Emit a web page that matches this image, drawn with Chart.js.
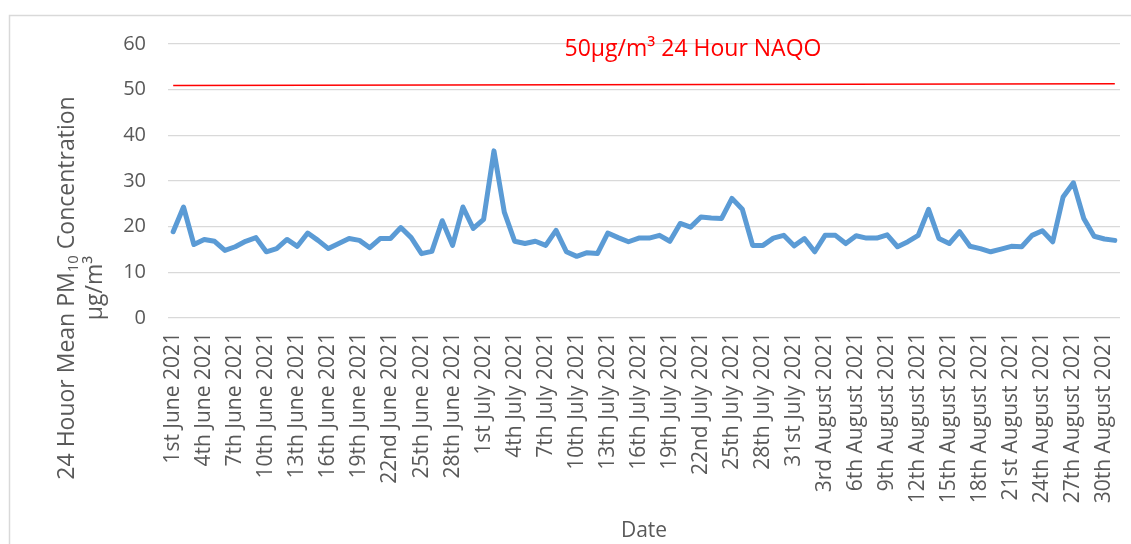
<!DOCTYPE html>
<html>
<head>
<meta charset="utf-8">
<script src="https://cdn.jsdelivr.net/npm/chart.js@4.4.0/dist/chart.umd.min.js"></script>
<style>
  html, body { margin: 0; padding: 0; background: #fff; }
  #wrap { position: relative; width: 1131px; height: 544px; }
</style>
</head>
<body>
<div id="wrap"><canvas id="pmChart"></canvas></div>
<script>
// categories: one per day, 1 June - 31 August 2021
const months = ['June', 'July', 'August'];
const monthDays = [30, 31, 31];

function ordinal(d) {
  if (d === 1 || d === 21 || d === 31) return d + 'st';
  if (d === 2 || d === 22) return d + 'nd';
  if (d === 3 || d === 23) return d + 'rd';
  return d + 'th';
}

const dates = [];
months.forEach((m, k) => {
  for (let d = 1; d <= monthDays[k]; d++) dates.push(ordinal(d) + ' ' + m + ' 2021');
});

// 24 hour mean PM10, µg/m³
const juneValues = [18.9, 24.3, 16.1, 17.2, 16.8, 14.8, 15.6, 16.8, 17.6, 14.5,
                    15.2, 17.2, 15.7, 18.6, 17.0, 15.2, 16.3, 17.4, 17.0, 15.4,
                    17.4, 17.4, 19.8, 17.6, 14.1, 14.6, 21.3, 15.9, 24.3, 19.6];
const julyValues = [21.6, 36.6, 23.2, 16.8, 16.3, 16.8, 15.9, 19.2, 14.5, 13.5,
                    14.3, 14.1, 18.6, 17.6, 16.7, 17.5, 17.5, 18.1, 16.8, 20.7,
                    19.9, 22.1, 21.9, 21.8, 26.2, 23.8, 15.9, 15.9, 17.5, 18.1, 15.8];
const augustValues = [17.4, 14.5, 18.1, 18.1, 16.3, 18.0, 17.5, 17.5, 18.2, 15.6,
                      16.7, 18.1, 23.8, 17.4, 16.3, 18.9, 15.7, 15.2, 14.5, 15.1,
                      15.7, 15.6, 18.1, 19.1, 16.7, 26.5, 29.6, 21.8, 17.9, 17.3, 17.0];
const pm10 = juneValues.concat(julyValues, augustValues);

// NAQO reference line, as drawn (start / end)
const naqoLine = [50.9, 51.3];
const naqoLabel = '50µg/m³ 24 Hour NAQO';

const yTicks = [0, 10, 20, 30, 40, 50, 60];
const labelEvery = 3;

const grey = '#595959';
Chart.defaults.font.family = "'Open Sans', sans-serif";
Chart.defaults.color = grey;

// frame, NAQO caption and the two-line y title
const extras = {
  id: 'extras',
  beforeDraw(chart) {
    const ctx = chart.ctx;
    ctx.save();
    ctx.strokeStyle = '#d9d9d9';
    ctx.lineWidth = 1.5;
    ctx.strokeRect(9.5, 15.5, 1400, 800);
    ctx.restore();
  },
  afterDraw(chart) {
    const ctx = chart.ctx;
    ctx.save();
    ctx.fillStyle = '#ff0000';
    ctx.font = "23px 'Open Sans'";
    ctx.textAlign = 'center';
    ctx.textBaseline = 'alphabetic';
    ctx.fillText(naqoLabel, 693, 56);

    // y title, rotated
    ctx.fillStyle = grey;
    ctx.translate(0, 288);
    ctx.rotate(-Math.PI / 2);
    ctx.textAlign = 'left';
    const big = "23px 'Open Sans'", small = "15px 'Open Sans'";
    const a = '24 Houor Mean PM', sub = '10', c = ' Concentration';
    ctx.font = big;
    const wa = ctx.measureText(a).width, wc = ctx.measureText(c).width;
    ctx.font = small;
    const ws = ctx.measureText(sub).width;
    let x = -(wa + ws + wc) / 2;
    ctx.font = big;
    ctx.fillText(a, x, 74);
    x += wa;
    ctx.font = small;
    ctx.fillText(sub, x, 78);
    x += ws;
    ctx.font = big;
    ctx.fillText(c, x, 74);
    ctx.textAlign = 'center';
    ctx.fillText('µg/m³', 0, 102);
    ctx.restore();
  }
};

new Chart(document.getElementById('pmChart'), {
  type: 'line',
  data: {
    labels: dates,
    datasets: [
      {
        label: 'PM10',
        data: pm10,
        borderColor: '#5b9bd5',
        borderWidth: 5,
        borderJoinStyle: 'round',
        borderCapStyle: 'round',
        pointRadius: 0,
        tension: 0,
        fill: false
      },
      {
        label: 'NAQO',
        data: [{x: dates[0], y: naqoLine[0]}, {x: dates[dates.length - 1], y: naqoLine[1]}],
        borderColor: '#ff0000',
        borderWidth: 1.5,
        pointRadius: 0,
        fill: false
      }
    ]
  },
  options: {
    responsive: true,
    maintainAspectRatio: false,
    animation: false,
    layout: { padding: { left: 0, right: 11, top: 44, bottom: 0 } },
    plugins: {
      legend: { display: false },
      tooltip: { enabled: false }
    },
    scales: {
      x: {
        offset: true,
        grid: { display: false, drawTicks: false },
        border: { display: false },
        ticks: {
          autoSkip: false,
          minRotation: 90,
          maxRotation: 90,
          padding: 14,
          color: grey,
          font: { size: 21 },
          callback: function (v, i) { return i % labelEvery === 0 ? this.getLabelForValue(v) : ''; }
        },
        title: { display: true, text: 'Date', color: grey, font: { size: 21 }, padding: { top: 0, bottom: 0 } },
        afterFit: (s) => { s.height = 226; s.paddingLeft = 0; s.paddingRight = 0; }
      },
      y: {
        min: yTicks[0],
        max: yTicks[yTicks.length - 1],
        grid: { color: '#d9d9d9', lineWidth: 1.3, drawTicks: false },
        border: { display: false },
        ticks: { stepSize: 10, padding: 22, color: grey, font: { size: 20 } },
        afterFit: (s) => { s.width = 168; }
      }
    }
  },
  plugins: [extras]
});
</script>
</body>
</html>
